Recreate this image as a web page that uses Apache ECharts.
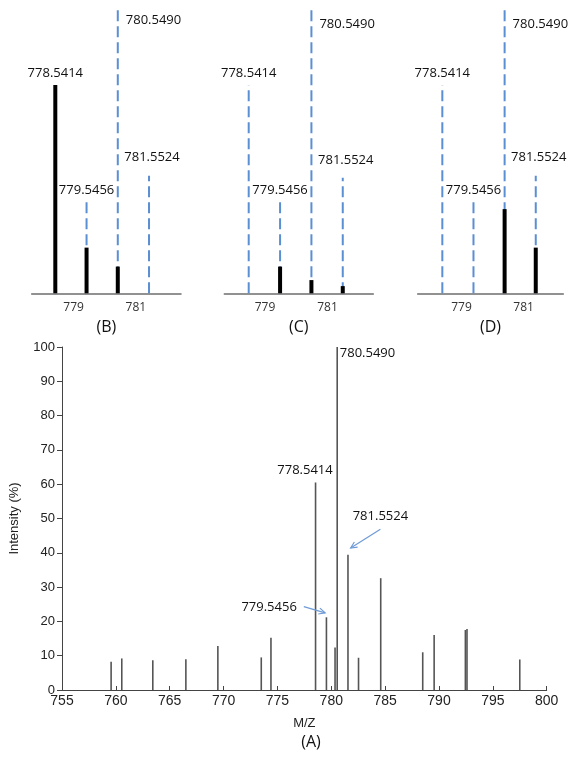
<!DOCTYPE html>
<html><head><meta charset="utf-8">
<script src="https://cdn.jsdelivr.net/npm/echarts@6/dist/echarts.min.js"></script>
<style>html,body{margin:0;padding:0;background:#fff}#c{width:574px;height:757px}</style>
</head><body><div id="c"></div>
<script>
// ---- data ----
const peakMz = [778.5414, 779.5456, 780.5490, 781.5524];
const peakLabels = ['778.5414', '779.5456', '780.5490', '781.5524'];
const theoB = [72.5, 31.9, 100, 40.9];
const theoC = [72.5, 31.9, 98.6, 40.2];
const theoD = [72.5, 31.9, 98.6, 40.9];
const obsB = [72.5, 15.9, 9.3, 0];
const obsC = [0, 9.3, 4.6, 2.5];
const obsD = [0, 0, 29.3, 15.9];
const panelTicks = [779, 781];
const panelNames = ['(B)', '(C)', '(D)'];

const mainMz = [759.56, 760.55, 763.43, 766.5, 769.47, 773.5, 774.4, 778.54, 779.55, 780.35, 780.55, 781.55, 782.53, 784.59, 788.49, 789.55, 792.45, 792.6, 797.5];
const mainInt = [8.2, 9.2, 8.7, 9.0, 12.8, 9.5, 15.2, 60.5, 21.2, 12.4, 100, 39.4, 9.4, 32.6, 11.0, 16.0, 17.5, 17.8, 8.9];

// annotations on main chart: label text, label anchor (m/z, intensity), optional arrow
const mainAnnText = ['780.5490', '778.5414', '781.5524', '779.5456'];
const mainAnnPos = [[780.79, 98.3], [777.56, 64.1], [784.56, 50.7], [774.23, 24.0]];
const mainAnnAlign = ['left', 'center', 'center', 'center'];
const mainArrows = [null, null, [[784.56, 46.9], [781.8, 41.4]], [[777.45, 24.3], [779.43, 22.5]]];

// ---- helpers ----
const BLUE = '#5b8fd3';
const FONT_LBL = '13px "Open Sans"';
function vline(color, width, dash) {
  return function (params, api) {
    const x = api.value(0), y = api.value(1);
    if (!y) return null;
    const p0 = api.coord([x, 0]), p1 = api.coord([x, y]);
    return { type: 'line', shape: { x1: p0[0], y1: p0[1], x2: p1[0], y2: p1[1] },
      style: { stroke: color, lineWidth: width, lineDash: dash || null, lineCap: 'butt' } };
  };
}
const labelOffsets = [[0, -12, 'center'], [0, -11, 'center'], [8, 14, 'left'], [3, -18, 'center']];
function panelLabelRender(params, api) {
  const i = params.dataIndex;
  const p = api.coord([api.value(0), api.value(1)]);
  const o = labelOffsets[i];
  return { type: 'text', x: p[0] + o[0], y: p[1] + o[1],
    style: { text: peakLabels[i], font: FONT_LBL, fill: '#111', align: o[2], verticalAlign: 'middle' } };
}
function pairs(xs, ys) { return xs.map((x, i) => [x, ys[i]]); }

const panels = [
  { theo: theoB, obs: obsB, left: 31.7, width: 149.3, min: 777.783, max: 782.58, pad: [0, 0, 0, 8] },
  { theo: theoC, obs: obsC, left: 224.3, width: 149, min: 777.76, max: 782.53, pad: [0, 0, 0, 4] },
  { theo: theoD, obs: obsD, left: 417.7, width: 145.6, min: 777.748, max: 782.44, pad: [0, 0, 0, 10] }
];

const grid = [], xAxis = [], yAxis = [], series = [];
panels.forEach((p, k) => {
  grid.push({ left: p.left, top: 6, width: p.width, height: 287.3 });
  xAxis.push({ type: 'value', gridIndex: k, min: p.min, max: p.max,
    axisLine: { show: true, lineStyle: { color: '#6e6e6e', width: 1.5 } },
    axisTick: { show: false }, splitLine: { show: false },
    axisLabel: { customValues: panelTicks, fontFamily: 'Open Sans', fontSize: 12, color: '#333', margin: 8, padding: p.pad },
    name: panelNames[k], nameLocation: 'middle', nameGap: 26,
    nameTextStyle: { fontFamily: 'Open Sans', fontSize: 16, color: '#111' } });
  yAxis.push({ type: 'value', gridIndex: k, min: 0, max: 100, show: false });
  series.push({ type: 'custom', xAxisIndex: k, yAxisIndex: k, renderItem: vline(BLUE, 2, [11, 5]),
    data: pairs(peakMz, p.theo), silent: true, z: 2 });
  series.push({ type: 'custom', xAxisIndex: k, yAxisIndex: k, renderItem: vline('#000', 4),
    data: pairs(peakMz, p.obs), silent: true, z: 3 });
  series.push({ type: 'custom', xAxisIndex: k, yAxisIndex: k, renderItem: panelLabelRender,
    data: peakMz.map((m, i) => [m, Math.max(p.theo[i], p.obs[i])]), silent: true, z: 4 });
});

// main chart (A)
grid.push({ left: 57.7, top: 347, width: 489, height: 343 });
xAxis.push({ type: 'value', gridIndex: 3, min: 755, max: 800, interval: 5,
  axisLine: { show: true, lineStyle: { color: '#444', width: 1 } },
  axisTick: { show: true, inside: true, length: 4, lineStyle: { color: '#444' } },
  splitLine: { show: false },
  axisLabel: { fontFamily: 'Liberation Sans', fontSize: 14, color: '#222', margin: 4 },
  name: 'M/Z', nameLocation: 'middle', nameGap: 27,
  nameTextStyle: { fontFamily: 'Liberation Sans', fontSize: 13, color: '#222' } });
yAxis.push({ type: 'value', gridIndex: 3, min: 0, max: 100, interval: 10,
  axisLine: { show: true, lineStyle: { color: '#444', width: 1 } },
  axisTick: { show: true, inside: false, length: 5, lineStyle: { color: '#444' } },
  splitLine: { show: false },
  axisLabel: { fontFamily: 'Liberation Sans', fontSize: 13, color: '#222', margin: 7 },
  name: 'Intensity (%)', nameLocation: 'middle', nameRotate: 90, nameGap: 41,
  nameTextStyle: { fontFamily: 'Liberation Sans', fontSize: 13, color: '#222' } });
series.push({ type: 'custom', xAxisIndex: 3, yAxisIndex: 3, renderItem: vline('#555', 1.6),
  data: pairs(mainMz, mainInt), silent: true, z: 2 });
series.push({ type: 'custom', xAxisIndex: 3, yAxisIndex: 3, silent: true, z: 4,
  data: mainAnnPos.map((p, i) => [p[0], p[1], i]),
  renderItem: function (params, api) {
    const i = params.dataIndex;
    const pos = api.coord(mainAnnPos[i]);
    const children = [{ type: 'text', x: pos[0], y: pos[1],
      style: { text: mainAnnText[i], font: FONT_LBL, fill: '#111', align: mainAnnAlign[i], verticalAlign: 'middle' } }];
    const a = mainArrows[i];
    if (a) {
      const s = api.coord(a[0]), e = api.coord(a[1]);
      const ang = Math.atan2(e[1] - s[1], e[0] - s[0]);
      const L = 7, W = 0.45;
      const h1 = [e[0] - L * Math.cos(ang - W), e[1] - L * Math.sin(ang - W)];
      const h2 = [e[0] - L * Math.cos(ang + W), e[1] - L * Math.sin(ang + W)];
      children.push({ type: 'line', shape: { x1: s[0], y1: s[1], x2: e[0], y2: e[1] }, style: { stroke: '#6f9bd6', lineWidth: 1.2 } });
      children.push({ type: 'polyline', shape: { points: [h1, e, h2] }, style: { stroke: '#6f9bd6', lineWidth: 1.2, fill: null } });
    }
    return { type: 'group', children: children };
  } });

const chart = echarts.init(document.getElementById('c'), null, { renderer: 'canvas' });
chart.setOption({
  animation: false,
  backgroundColor: '#fff',
  title: [{ text: '(A)', left: 306, top: 729, textAlign: 'center',
    textStyle: { fontFamily: 'Open Sans', fontSize: 16, fontWeight: 'normal', color: '#111' } }],
  grid: grid, xAxis: xAxis, yAxis: yAxis, series: series
});
</script>
</body></html>
